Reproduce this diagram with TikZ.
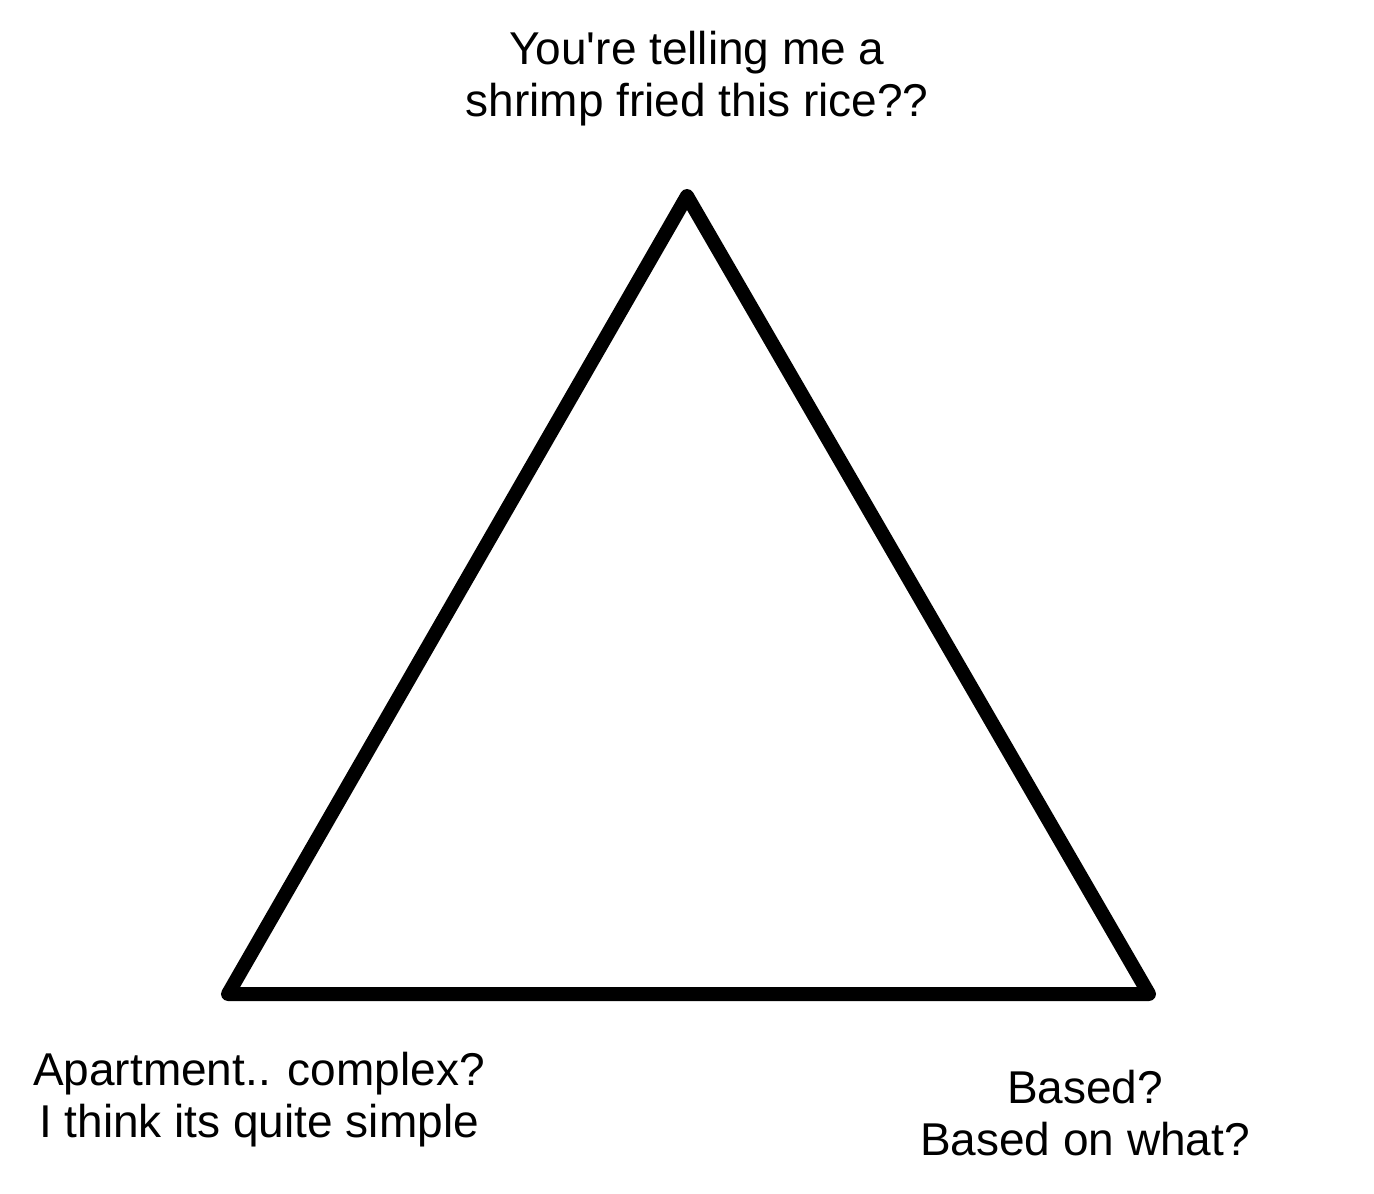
\documentclass[tikz,border=0pt]{standalone}
\usepackage{fontspec}
\setmainfont{Liberation Sans}
\begin{document}
\begin{tikzpicture}[x=0.5pt,y=-0.5pt,
  lbl/.style={align=center,inner sep=0pt,font=\fontsize{23pt}{26pt}\selectfont},
  tri/.style={line width=7pt,line join=round,line cap=round}]
\useasboundingbox (0,0) rectangle (1374,1193);
\coordinate (T) at (687,196);
\coordinate (L) at (228,994);
\coordinate (R) at (1149,994);
\draw[tri] (T) -- (L) -- (R) -- cycle;
\node[lbl] (top) at (697,79) {You\textquotesingle re telling me a\\shrimp fried this rice??};
\node[lbl] (left) at (259,1100) {Apartment.. complex?\\I think its quite simple};
\node[lbl] (right) at (1085,1113) {Based?\\Based on what?};
\end{tikzpicture}
\end{document}
